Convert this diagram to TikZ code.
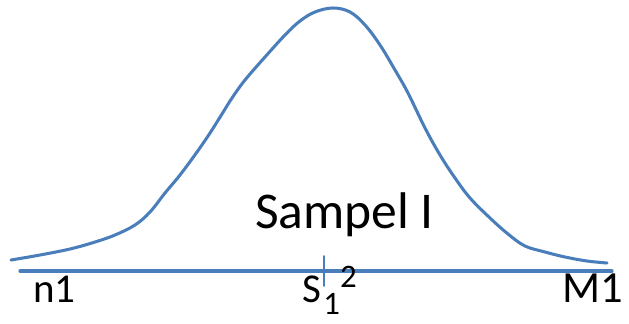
\documentclass[tikz,border=0pt]{standalone}
\usepackage{fontspec}
\setmainfont{Carlito}
\definecolor{curveblue}{RGB}{74,126,187}
\tikzset{
  blueline/.style={draw=curveblue,line width=2.6pt,line cap=round,line join=round},
  axislabel/.style={inner sep=0pt,anchor=base west,text=black}
}
\begin{document}
\begin{tikzpicture}[x=0.03cm,y=-0.03cm]
\useasboundingbox (0,0) rectangle (629,323);

% axis
\coordinate (axL) at (20,271);
\coordinate (axR) at (612,271);
\draw[blueline] (axL) -- (axR);

% tick at the mean
\coordinate (tickT) at (324,256);
\coordinate (tickB) at (324,286);
\draw[blueline,line width=1.6pt] (tickT) -- (tickB);

% bell curve
\draw[blueline] plot[smooth,tension=0.6] coordinates {
  (11,260) (40,255) (70,249) (95,242) (115,235) (135,225) (150,212)
  (165,193) (180,175) (197,152) (210,133) (222,114) (232,98) (245,80)
  (265,57) (285,35) (300,21) (315,12) (333,8) (350,12) (365,25)
  (380,45) (395,70) (408,93) (425,128) (440,155) (455,178) (470,198)
  (490,218) (508,234) (525,246) (545,252) (565,257) (587,261) (607,263)};

% labels
\node[axislabel,font=\fontsize{35}{35}\selectfont] (nlab) at (33,302) {n1};
\node[axislabel,font=\fontsize{38}{38}\selectfont] (mlab) at (562,302) {M1};
\node[axislabel,font=\fontsize{44}{44}\selectfont] (samp) at (255,228) {Sampel I};
\node[axislabel,font=\fontsize{35}{35}\selectfont] (slab) at (302,302)
  {S\hspace{2pt}\raisebox{-11pt}{\fontsize{28}{28}\selectfont 1}\raisebox{12.5pt}{\fontsize{28}{28}\selectfont 2}};

\end{tikzpicture}
\end{document}
